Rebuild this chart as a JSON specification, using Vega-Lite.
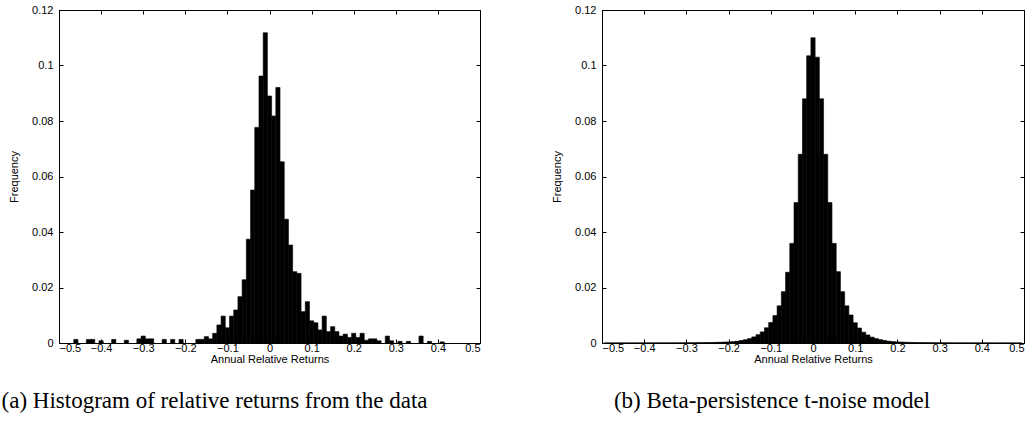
{
  "$schema": "https://vega.github.io/schema/vega-lite/v6.json",
  "background": "white",
  "padding": {"left": 1, "top": 3, "right": 5, "bottom": 5},
  "spacing": 70,
  "config": {
    "view": {"stroke": "black", "strokeWidth": 1},
    "axis": {
      "labelFont": "Liberation Sans", "labelFontSize": 11, "labelColor": "black",
      "titleFont": "Liberation Sans", "titleFontSize": 11, "titleFontWeight": "normal", "titleColor": "black",
      "domain": true, "domainColor": "black", "domainWidth": 1, "grid": false, "tickColor": "black", "tickSize": -4, "labelPadding": 6
    },
    "title": {"font": "Liberation Serif", "fontSize": 23, "fontWeight": "normal", "color": "black", "orient": "bottom", "anchor": "middle", "frame": "group", "offset": 26}
  },
  "datasets": {
    "data": [
      {"lo": -0.465, "hi": -0.455, "f": 0.0013},
      {"lo": -0.435, "hi": -0.425, "f": 0.0013},
      {"lo": -0.425, "hi": -0.415, "f": 0.0013},
      {"lo": -0.405, "hi": -0.395, "f": 0.0008},
      {"lo": -0.375, "hi": -0.365, "f": 0.0013},
      {"lo": -0.345, "hi": -0.335, "f": 0.001},
      {"lo": -0.315, "hi": -0.305, "f": 0.0015},
      {"lo": -0.305, "hi": -0.295, "f": 0.0025},
      {"lo": -0.295, "hi": -0.285, "f": 0.0015},
      {"lo": -0.285, "hi": -0.275, "f": 0.0015},
      {"lo": -0.255, "hi": -0.245, "f": 0.0013},
      {"lo": -0.235, "hi": -0.225, "f": 0.0013},
      {"lo": -0.215, "hi": -0.205, "f": 0.0013},
      {"lo": -0.175, "hi": -0.165, "f": 0.0013},
      {"lo": -0.165, "hi": -0.155, "f": 0.0013},
      {"lo": -0.155, "hi": -0.145, "f": 0.0023},
      {"lo": -0.145, "hi": -0.135, "f": 0.0015},
      {"lo": -0.135, "hi": -0.125, "f": 0.0035},
      {"lo": -0.125, "hi": -0.115, "f": 0.0065},
      {"lo": -0.115, "hi": -0.105, "f": 0.0097},
      {"lo": -0.105, "hi": -0.095, "f": 0.0055},
      {"lo": -0.095, "hi": -0.085, "f": 0.0097},
      {"lo": -0.085, "hi": -0.075, "f": 0.0119},
      {"lo": -0.075, "hi": -0.065, "f": 0.0167},
      {"lo": -0.065, "hi": -0.055, "f": 0.0228},
      {"lo": -0.055, "hi": -0.045, "f": 0.0374},
      {"lo": -0.045, "hi": -0.035, "f": 0.0551},
      {"lo": -0.035, "hi": -0.025, "f": 0.0777},
      {"lo": -0.025, "hi": -0.015, "f": 0.0962},
      {"lo": -0.015, "hi": -0.005, "f": 0.1118},
      {"lo": -0.005, "hi": 0.005, "f": 0.089},
      {"lo": 0.005, "hi": 0.015, "f": 0.0818},
      {"lo": 0.015, "hi": 0.025, "f": 0.0921},
      {"lo": 0.025, "hi": 0.035, "f": 0.0653},
      {"lo": 0.035, "hi": 0.045, "f": 0.0446},
      {"lo": 0.045, "hi": 0.055, "f": 0.0353},
      {"lo": 0.055, "hi": 0.065, "f": 0.0257},
      {"lo": 0.065, "hi": 0.075, "f": 0.0251},
      {"lo": 0.075, "hi": 0.085, "f": 0.0113},
      {"lo": 0.085, "hi": 0.095, "f": 0.0149},
      {"lo": 0.095, "hi": 0.105, "f": 0.008},
      {"lo": 0.105, "hi": 0.115, "f": 0.0073},
      {"lo": 0.115, "hi": 0.125, "f": 0.0047},
      {"lo": 0.125, "hi": 0.135, "f": 0.0097},
      {"lo": 0.135, "hi": 0.145, "f": 0.0041},
      {"lo": 0.145, "hi": 0.155, "f": 0.0059},
      {"lo": 0.155, "hi": 0.165, "f": 0.0041},
      {"lo": 0.165, "hi": 0.175, "f": 0.0025},
      {"lo": 0.175, "hi": 0.185, "f": 0.0032},
      {"lo": 0.185, "hi": 0.195, "f": 0.002},
      {"lo": 0.195, "hi": 0.205, "f": 0.0035},
      {"lo": 0.205, "hi": 0.215, "f": 0.002},
      {"lo": 0.215, "hi": 0.225, "f": 0.0035},
      {"lo": 0.225, "hi": 0.235, "f": 0.001},
      {"lo": 0.235, "hi": 0.245, "f": 0.0015},
      {"lo": 0.245, "hi": 0.255, "f": 0.0015},
      {"lo": 0.255, "hi": 0.265, "f": 0.0008},
      {"lo": 0.275, "hi": 0.285, "f": 0.0025},
      {"lo": 0.285, "hi": 0.295, "f": 0.0008},
      {"lo": 0.305, "hi": 0.315, "f": 0.0006},
      {"lo": 0.325, "hi": 0.335, "f": 0.0006},
      {"lo": 0.355, "hi": 0.365, "f": 0.0025},
      {"lo": 0.375, "hi": 0.385, "f": 0.0006},
      {"lo": 0.405, "hi": 0.415, "f": 0.0004}
    ],
    "model": [
      {"lo": -0.495, "hi": -0.485, "f": 0.00003},
      {"lo": -0.485, "hi": -0.475, "f": 0.00003},
      {"lo": -0.475, "hi": -0.465, "f": 0.00003},
      {"lo": -0.465, "hi": -0.455, "f": 0.00003},
      {"lo": -0.455, "hi": -0.445, "f": 0.00003},
      {"lo": -0.445, "hi": -0.435, "f": 0.00003},
      {"lo": -0.435, "hi": -0.425, "f": 0.00003},
      {"lo": -0.425, "hi": -0.415, "f": 0.00003},
      {"lo": -0.415, "hi": -0.405, "f": 0.00004},
      {"lo": -0.405, "hi": -0.395, "f": 0.00004},
      {"lo": -0.395, "hi": -0.385, "f": 0.00004},
      {"lo": -0.385, "hi": -0.375, "f": 0.00004},
      {"lo": -0.375, "hi": -0.365, "f": 0.00004},
      {"lo": -0.365, "hi": -0.355, "f": 0.00005},
      {"lo": -0.355, "hi": -0.345, "f": 0.00005},
      {"lo": -0.345, "hi": -0.335, "f": 0.00005},
      {"lo": -0.335, "hi": -0.325, "f": 0.00006},
      {"lo": -0.325, "hi": -0.315, "f": 0.00006},
      {"lo": -0.315, "hi": -0.305, "f": 0.00007},
      {"lo": -0.305, "hi": -0.295, "f": 0.00008},
      {"lo": -0.295, "hi": -0.285, "f": 0.00009},
      {"lo": -0.285, "hi": -0.275, "f": 0.0001},
      {"lo": -0.275, "hi": -0.265, "f": 0.00012},
      {"lo": -0.265, "hi": -0.255, "f": 0.00014},
      {"lo": -0.255, "hi": -0.245, "f": 0.00016},
      {"lo": -0.245, "hi": -0.235, "f": 0.00019},
      {"lo": -0.235, "hi": -0.225, "f": 0.00022},
      {"lo": -0.225, "hi": -0.215, "f": 0.00027},
      {"lo": -0.215, "hi": -0.205, "f": 0.00033},
      {"lo": -0.205, "hi": -0.195, "f": 0.0004},
      {"lo": -0.195, "hi": -0.185, "f": 0.0005},
      {"lo": -0.185, "hi": -0.175, "f": 0.00065},
      {"lo": -0.175, "hi": -0.165, "f": 0.0009},
      {"lo": -0.165, "hi": -0.155, "f": 0.0012},
      {"lo": -0.155, "hi": -0.145, "f": 0.0016},
      {"lo": -0.145, "hi": -0.135, "f": 0.0022},
      {"lo": -0.135, "hi": -0.125, "f": 0.003},
      {"lo": -0.125, "hi": -0.115, "f": 0.004},
      {"lo": -0.115, "hi": -0.105, "f": 0.0055},
      {"lo": -0.105, "hi": -0.095, "f": 0.0074},
      {"lo": -0.095, "hi": -0.085, "f": 0.0099},
      {"lo": -0.085, "hi": -0.075, "f": 0.0134},
      {"lo": -0.075, "hi": -0.065, "f": 0.0185},
      {"lo": -0.065, "hi": -0.055, "f": 0.0255},
      {"lo": -0.055, "hi": -0.045, "f": 0.0359},
      {"lo": -0.045, "hi": -0.035, "f": 0.0506},
      {"lo": -0.035, "hi": -0.025, "f": 0.068},
      {"lo": -0.025, "hi": -0.015, "f": 0.088},
      {"lo": -0.015, "hi": -0.005, "f": 0.1035},
      {"lo": -0.005, "hi": 0.005, "f": 0.110},
      {"lo": 0.005, "hi": 0.015, "f": 0.103},
      {"lo": 0.015, "hi": 0.025, "f": 0.088},
      {"lo": 0.025, "hi": 0.035, "f": 0.068},
      {"lo": 0.035, "hi": 0.045, "f": 0.0506},
      {"lo": 0.045, "hi": 0.055, "f": 0.0359},
      {"lo": 0.055, "hi": 0.065, "f": 0.0257},
      {"lo": 0.065, "hi": 0.075, "f": 0.0185},
      {"lo": 0.075, "hi": 0.085, "f": 0.0134},
      {"lo": 0.085, "hi": 0.095, "f": 0.0101},
      {"lo": 0.095, "hi": 0.105, "f": 0.0073},
      {"lo": 0.105, "hi": 0.115, "f": 0.0054},
      {"lo": 0.115, "hi": 0.125, "f": 0.0039},
      {"lo": 0.125, "hi": 0.135, "f": 0.0029},
      {"lo": 0.135, "hi": 0.145, "f": 0.0021},
      {"lo": 0.145, "hi": 0.155, "f": 0.0016},
      {"lo": 0.155, "hi": 0.165, "f": 0.0012},
      {"lo": 0.165, "hi": 0.175, "f": 0.0009},
      {"lo": 0.175, "hi": 0.185, "f": 0.00065},
      {"lo": 0.185, "hi": 0.195, "f": 0.0005},
      {"lo": 0.195, "hi": 0.205, "f": 0.0004},
      {"lo": 0.205, "hi": 0.215, "f": 0.00033},
      {"lo": 0.215, "hi": 0.225, "f": 0.00027},
      {"lo": 0.225, "hi": 0.235, "f": 0.00022},
      {"lo": 0.235, "hi": 0.245, "f": 0.00019},
      {"lo": 0.245, "hi": 0.255, "f": 0.00016},
      {"lo": 0.255, "hi": 0.265, "f": 0.00014},
      {"lo": 0.265, "hi": 0.275, "f": 0.00012},
      {"lo": 0.275, "hi": 0.285, "f": 0.0001},
      {"lo": 0.285, "hi": 0.295, "f": 0.00009},
      {"lo": 0.295, "hi": 0.305, "f": 0.00008},
      {"lo": 0.305, "hi": 0.315, "f": 0.00007},
      {"lo": 0.315, "hi": 0.325, "f": 0.00006},
      {"lo": 0.325, "hi": 0.335, "f": 0.00006},
      {"lo": 0.335, "hi": 0.345, "f": 0.00005},
      {"lo": 0.345, "hi": 0.355, "f": 0.00005},
      {"lo": 0.355, "hi": 0.365, "f": 0.00005},
      {"lo": 0.365, "hi": 0.375, "f": 0.00004},
      {"lo": 0.375, "hi": 0.385, "f": 0.00004},
      {"lo": 0.385, "hi": 0.395, "f": 0.00004},
      {"lo": 0.395, "hi": 0.405, "f": 0.00004},
      {"lo": 0.405, "hi": 0.415, "f": 0.00004},
      {"lo": 0.415, "hi": 0.425, "f": 0.00003},
      {"lo": 0.425, "hi": 0.435, "f": 0.00003},
      {"lo": 0.435, "hi": 0.445, "f": 0.00003},
      {"lo": 0.445, "hi": 0.455, "f": 0.00003},
      {"lo": 0.455, "hi": 0.465, "f": 0.00003},
      {"lo": 0.465, "hi": 0.475, "f": 0.00003},
      {"lo": 0.475, "hi": 0.485, "f": 0.00003},
      {"lo": 0.485, "hi": 0.495, "f": 0.00003}
    ]
  },
  "hconcat": [
    {
      "width": 421, "height": 333,
      "title": {"text": "(a) Histogram of relative returns from the data", "dx": -55},
      "data": {"name": "data"},
      "layer": [
        {
          "mark": {"type": "bar", "color": "black", "stroke": "black", "strokeWidth": 0.6},
          "encoding": {
            "x": {"field": "lo", "type": "quantitative", "scale": {"domain": [-0.5, 0.5], "nice": false, "zero": false},
                  "axis": {"orient": "bottom", "title": "Annual Relative Returns", "values": [-0.5, -0.4, -0.3, -0.2, -0.1, 0, 0.1, 0.2, 0.3, 0.4, 0.5], "format": ".1~f", "labelPadding": 3, "titlePadding": 0}},
            "x2": {"field": "hi"},
            "y": {"field": "f", "type": "quantitative", "scale": {"domain": [0, 0.12], "nice": false},
                  "axis": {"orient": "left", "title": "Frequency", "values": [0, 0.02, 0.04, 0.06, 0.08, 0.1, 0.12], "format": ".2~f", "labelPadding": 10, "titlePadding": 12, "labelOverlap": false}},
            "y2": {"datum": 0}
          }
        },
        {
          "mark": {"type": "bar", "opacity": 0},
          "encoding": {
            "x": {"field": "lo", "type": "quantitative", "axis": {"orient": "top", "title": null, "labels": false, "values": [-0.5, -0.4, -0.3, -0.2, -0.1, 0, 0.1, 0.2, 0.3, 0.4, 0.5]}},
            "x2": {"field": "hi"},
            "y": {"field": "f", "type": "quantitative", "axis": {"orient": "right", "title": null, "labels": false, "values": [0, 0.02, 0.04, 0.06, 0.08, 0.1, 0.12]}},
            "y2": {"datum": 0}
          }
        }
      ]
    },
    {
      "width": 422, "height": 333,
      "title": {"text": "(b) Beta-persistence t-noise model", "dx": -41},
      "data": {"name": "model"},
      "layer": [
        {
          "mark": {"type": "bar", "color": "black", "stroke": "black", "strokeWidth": 0.6},
          "encoding": {
            "x": {"field": "lo", "type": "quantitative", "scale": {"domain": [-0.5, 0.5], "nice": false, "zero": false},
                  "axis": {"orient": "bottom", "title": "Annual Relative Returns", "values": [-0.5, -0.4, -0.3, -0.2, -0.1, 0, 0.1, 0.2, 0.3, 0.4, 0.5], "format": ".1~f", "labelPadding": 3, "titlePadding": 0}},
            "x2": {"field": "hi"},
            "y": {"field": "f", "type": "quantitative", "scale": {"domain": [0, 0.12], "nice": false},
                  "axis": {"orient": "left", "title": "Frequency", "values": [0, 0.02, 0.04, 0.06, 0.08, 0.1, 0.12], "format": ".2~f", "labelPadding": 10, "titlePadding": 12, "labelOverlap": false}},
            "y2": {"datum": 0}
          }
        },
        {
          "mark": {"type": "bar", "opacity": 0},
          "encoding": {
            "x": {"field": "lo", "type": "quantitative", "axis": {"orient": "top", "title": null, "labels": false, "values": [-0.5, -0.4, -0.3, -0.2, -0.1, 0, 0.1, 0.2, 0.3, 0.4, 0.5]}},
            "x2": {"field": "hi"},
            "y": {"field": "f", "type": "quantitative", "axis": {"orient": "right", "title": null, "labels": false, "values": [0, 0.02, 0.04, 0.06, 0.08, 0.1, 0.12]}},
            "y2": {"datum": 0}
          }
        }
      ]
    }
  ]
}
